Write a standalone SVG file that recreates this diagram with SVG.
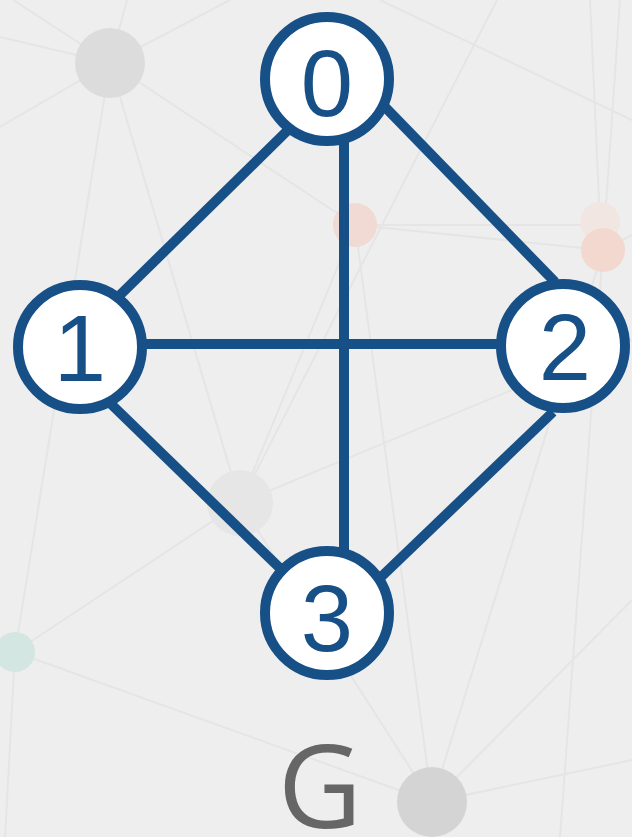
<svg xmlns="http://www.w3.org/2000/svg" width="632" height="837" viewBox="0 0 632 837">
<style>
.bgl{stroke:#e5e5e5;stroke-width:2;fill:none}
.edge{stroke:#174f87;stroke-width:10;fill:none}
.node circle{fill:#ffffff;stroke:#174f87;stroke-width:10}
.node text{font-family:"Liberation Sans",Arial,Helvetica,sans-serif;font-size:94px;fill:#174f87;text-anchor:middle}
.title{font-family:"Open Sans","Noto Sans",sans-serif;font-size:116px;fill:#666666;text-anchor:middle}
</style>
<g id="background">
<rect x="0" y="0" width="632" height="837" fill="#eeeeee"/>
<line class="bgl" x1="110" y1="63" x2="355" y2="225"/>
<line class="bgl" x1="110" y1="63" x2="15" y2="652"/>
<line class="bgl" x1="110" y1="63" x2="0" y2="37"/>
<line class="bgl" x1="110" y1="63" x2="0" y2="127"/>
<line class="bgl" x1="110" y1="63" x2="230" y2="0"/>
<line class="bgl" x1="110" y1="63" x2="13" y2="0"/>
<line class="bgl" x1="110" y1="63" x2="127" y2="0"/>
<line class="bgl" x1="110" y1="63" x2="240" y2="503"/>
<line class="bgl" x1="355" y1="225" x2="603" y2="225"/>
<line class="bgl" x1="355" y1="225" x2="603" y2="250"/>
<line class="bgl" x1="355" y1="225" x2="432" y2="802"/>
<line class="bgl" x1="240" y1="503" x2="355" y2="225"/>
<line class="bgl" x1="15" y1="652" x2="432" y2="802"/>
<line class="bgl" x1="15" y1="652" x2="240" y2="503"/>
<line class="bgl" x1="15" y1="652" x2="5" y2="837"/>
<line class="bgl" x1="240" y1="503" x2="632" y2="340"/>
<line class="bgl" x1="432" y1="802" x2="603" y2="250"/>
<line class="bgl" x1="432" y1="802" x2="632" y2="760"/>
<line class="bgl" x1="432" y1="802" x2="632" y2="600"/>
<line class="bgl" x1="432" y1="802" x2="240" y2="503"/>
<line class="bgl" x1="603" y1="250" x2="632" y2="235"/>
<line class="bgl" x1="603" y1="250" x2="620" y2="0"/>
<line class="bgl" x1="600" y1="222" x2="590" y2="0"/>
<line class="bgl" x1="497" y1="0" x2="240" y2="503"/>
<line class="bgl" x1="380" y1="0" x2="632" y2="120"/>
<line class="bgl" x1="603" y1="250" x2="560" y2="837"/>
<circle cx="110" cy="63" r="35" fill="#dcdcdc"/>
<circle cx="355" cy="225" r="22" fill="#f0dad3"/>
<circle cx="600" cy="222" r="20" fill="#f2e6e2"/>
<circle cx="603" cy="250" r="22" fill="#f2d8ce"/>
<circle cx="240" cy="503" r="33" fill="#e6e6e6"/>
<circle cx="15" cy="652" r="20" fill="#d4e6e2"/>
<circle cx="432" cy="802" r="35" fill="#d4d4d4"/>
</g>
<g id="connectors">
<line class="edge" x1="287" y1="131" x2="119" y2="296"/>
<line class="edge" x1="385" y1="107" x2="555" y2="282"/>
<line class="edge" x1="344" y1="140" x2="344" y2="558"/>
<line class="edge" x1="140" y1="344" x2="505" y2="344"/>
<line class="edge" x1="111" y1="404" x2="288" y2="576"/>
<line class="edge" x1="553" y1="412" x2="380" y2="578"/>
</g>
<g id="node-0" class="node">
<circle cx="327" cy="79" r="62"/>
<text x="327" y="116">0</text>
</g>
<g id="node-1" class="node">
<circle cx="80" cy="347" r="62"/>
<text x="80" y="381">1</text>
</g>
<g id="node-2" class="node">
<circle cx="563" cy="346" r="62"/>
<text x="565" y="380">2</text>
</g>
<g id="node-3" class="node">
<circle cx="327" cy="613" r="62"/>
<text x="327" y="651">3</text>
</g>
<text class="title" x="320" y="828">G</text>
</svg>
